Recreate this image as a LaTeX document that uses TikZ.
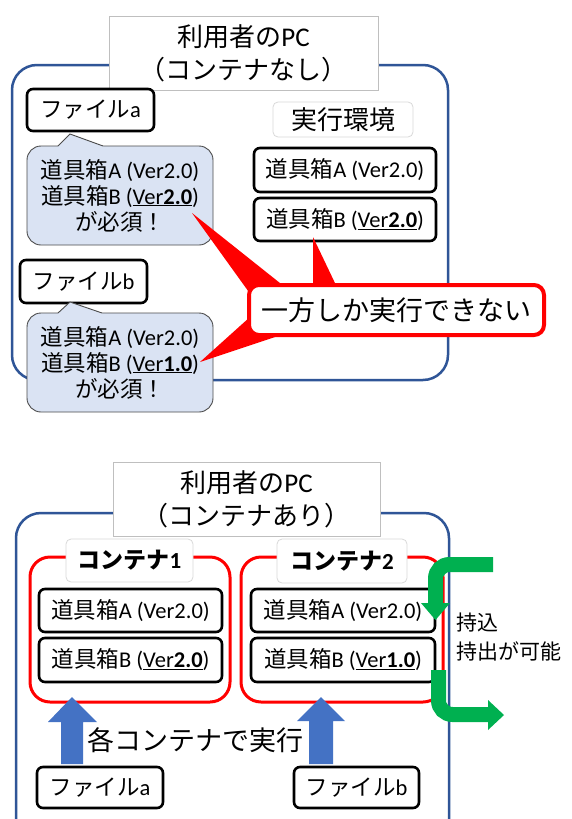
\documentclass[tikz,border=0pt]{standalone}
\usepackage{fontspec}
\setmainfont{Carlito}
\newfontfamily\jp{Noto Sans CJK JP}
\usetikzlibrary{calc}
\definecolor{pcblue}{HTML}{2F5597}
\definecolor{callfill}{HTML}{DAE3F3}
\definecolor{arrowblue}{HTML}{4472C4}
\definecolor{greenarr}{HTML}{00B050}
\definecolor{redc}{HTML}{FF0000}
\newcommand{\tooltxt}[2]{{\jp 道具箱}#1 (#2)}
\newcommand{\verul}[1]{\underline{Ver\textbf{#1}}}
\tikzset{
  pcbox/.style={draw=pcblue, line width=2.5pt, rounded corners=25pt},
  titlebox/.style={draw=black!25, line width=0.8pt, fill=white, inner sep=0pt, align=center,
    font=\jp\fontsize{26}{33}\selectfont},
  lblbox/.style={draw=black!15, line width=0.8pt, fill=white, rounded corners=5pt, inner sep=0pt},
  tbox/.style={draw=black, line width=2.6pt, fill=white, rounded corners=6pt, inner sep=0pt,
    font=\fontsize{22.5}{26}\selectfont},
  callbox/.style={draw=black!70, line width=0.9pt, fill=callfill, rounded corners=14pt, inner sep=0pt,
    align=center, font=\fontsize{22.5}{26}\selectfont},
  redbox/.style={draw=redc, line width=4pt, fill=white, rounded corners=10pt, inner sep=0pt,
    font=\jp\fontsize{27}{30}\selectfont},
  contbox/.style={draw=redc, line width=3pt, rounded corners=20pt},
  plain/.style={inner sep=0pt}
}
\begin{document}
\begin{tikzpicture}[x=1pt,y=-1pt]
\useasboundingbox (0,0) rectangle (572,819);
\clip (0,0) rectangle (572,819);
\fill[white] (0,0) rectangle (572,819);

% ===== top section =====
\draw[pcbox] (12,65) rectangle (448,380);
\node[titlebox, minimum width=269, minimum height=74] (title1) at (243.5,53)
  {利用者の{\rmfamily\fontsize{27}{33}\selectfont PC}\\（コンテナなし）};
\node[lblbox, minimum width=140, minimum height=35, font=\jp\fontsize{26}{30}\selectfont] (env) at (343,119.5) {実行環境};
\node[tbox, minimum width=182, minimum height=44] (topA) at (345,170) {\tooltxt{A}{Ver2.0}};
\node[tbox, minimum width=182, minimum height=43] (topB) at (345,219.5) {\tooltxt{B}{\verul{2.0}}};

\node[tbox, minimum width=127, minimum height=42] (fileA1) at (90.5,110) {{\jp ファイル}a};
\node[callbox, minimum width=186, minimum height=99] (callA) at (120,195.5)
  {\tooltxt{A}{Ver2.0}\\\tooltxt{B}{\verul{2.0}}\\{\jp が必須！}};
\fill[callfill] (58,146) -- (70,134) -- (103,146) -- (103,148) -- (58,148) -- cycle;
\draw[black!70, line width=0.9pt] (58,146) -- (70,134) -- (103,146);

\node[tbox, minimum width=127, minimum height=43] (fileB1) at (83.5,281.5) {{\jp ファイル}b};
\node[callbox, minimum width=186, minimum height=99] (callB) at (120,362.5)
  {\tooltxt{A}{Ver2.0}\\\tooltxt{B}{\verul{1.0}}\\{\jp が必須！}};
\fill[callfill] (58,313) -- (70,302) -- (102,313) -- (102,315) -- (58,315) -- cycle;
\draw[black!70, line width=0.9pt] (58,313) -- (70,302) -- (102,313);

% red callout with wedges
\fill[redc] (192,213) -- (295,295) -- (251,295) -- cycle;
\fill[redc] (200,362) -- (260,308) -- (284,334) -- cycle;
\fill[redc] (313,237) -- (313,290) -- (338.3,290) -- cycle;
\node[redbox, minimum width=295, minimum height=50] (onlyone) at (396.5,310) {一方しか実行できない};

% ===== bottom section =====
\draw[pcbox] (16,513) rectangle (449,850);
\node[titlebox, minimum width=267, minimum height=74] (title2) at (246.5,499)
  {利用者の{\rmfamily\fontsize{27}{33}\selectfont PC}\\（コンテナあり）};

\draw[contbox] (30,557) rectangle (230,702);
\draw[contbox] (241,557) rectangle (443,702);
\node[lblbox, minimum width=127, minimum height=43, font=\bfseries\fontsize{23}{26}\selectfont] (c1lbl) at (129.5,560.5) {{\jp\bfseries コンテナ}1};
\node[lblbox, minimum width=130, minimum height=44, font=\bfseries\fontsize{23}{26}\selectfont] (c2lbl) at (342,561) {{\jp\bfseries コンテナ}2};

\node[tbox, minimum width=183, minimum height=43] (c1A) at (130.5,610.5) {\tooltxt{A}{Ver2.0}};
\node[tbox, minimum width=183, minimum height=44] (c1B) at (130.5,660) {\tooltxt{B}{\verul{2.0}}};
\node[tbox, minimum width=184, minimum height=43] (c2A) at (343,610.5) {\tooltxt{A}{Ver2.0}};
\node[tbox, minimum width=184, minimum height=44] (c2B) at (343,660) {\tooltxt{B}{\verul{1.0}}};

% green carry arrows
\draw[greenarr, line width=15pt, rounded corners=14pt] (493,564.5) -- (435.5,564.5) -- (435.5,604);
\fill[greenarr] (421,603) -- (450,603) -- (435.5,620) -- cycle;
\draw[greenarr, line width=15pt, rounded corners=14pt] (438.5,670) -- (438.5,714.5) -- (489,714.5);
\fill[greenarr] (488,700) -- (488,730) -- (504,715) -- cycle;
\node[plain, anchor=west, align=left, font=\jp\fontsize{21}{29}\selectfont] (carry) at (456,637.5) {持込\\持出が可能};

% files and blue run arrows
\node[tbox, minimum width=126, minimum height=41] (fileA2) at (100,787.5) {{\jp ファイル}a};
\node[tbox, minimum width=125, minimum height=41] (fileB2) at (356.5,787.5) {{\jp ファイル}b};
\fill[arrowblue] (61,764) -- (61,722) -- (48,722) -- (72,697) -- (97,722) -- (83,722) -- (83,764) -- cycle;
\fill[arrowblue] (309,764) -- (309,721) -- (297,721) -- (321,697) -- (345,721) -- (333,721) -- (333,764) -- cycle;
\node[plain, anchor=west, font=\jp\fontsize{27}{30}\selectfont] (runeach) at (87,740) {各コンテナで実行};
\end{tikzpicture}
\end{document}
